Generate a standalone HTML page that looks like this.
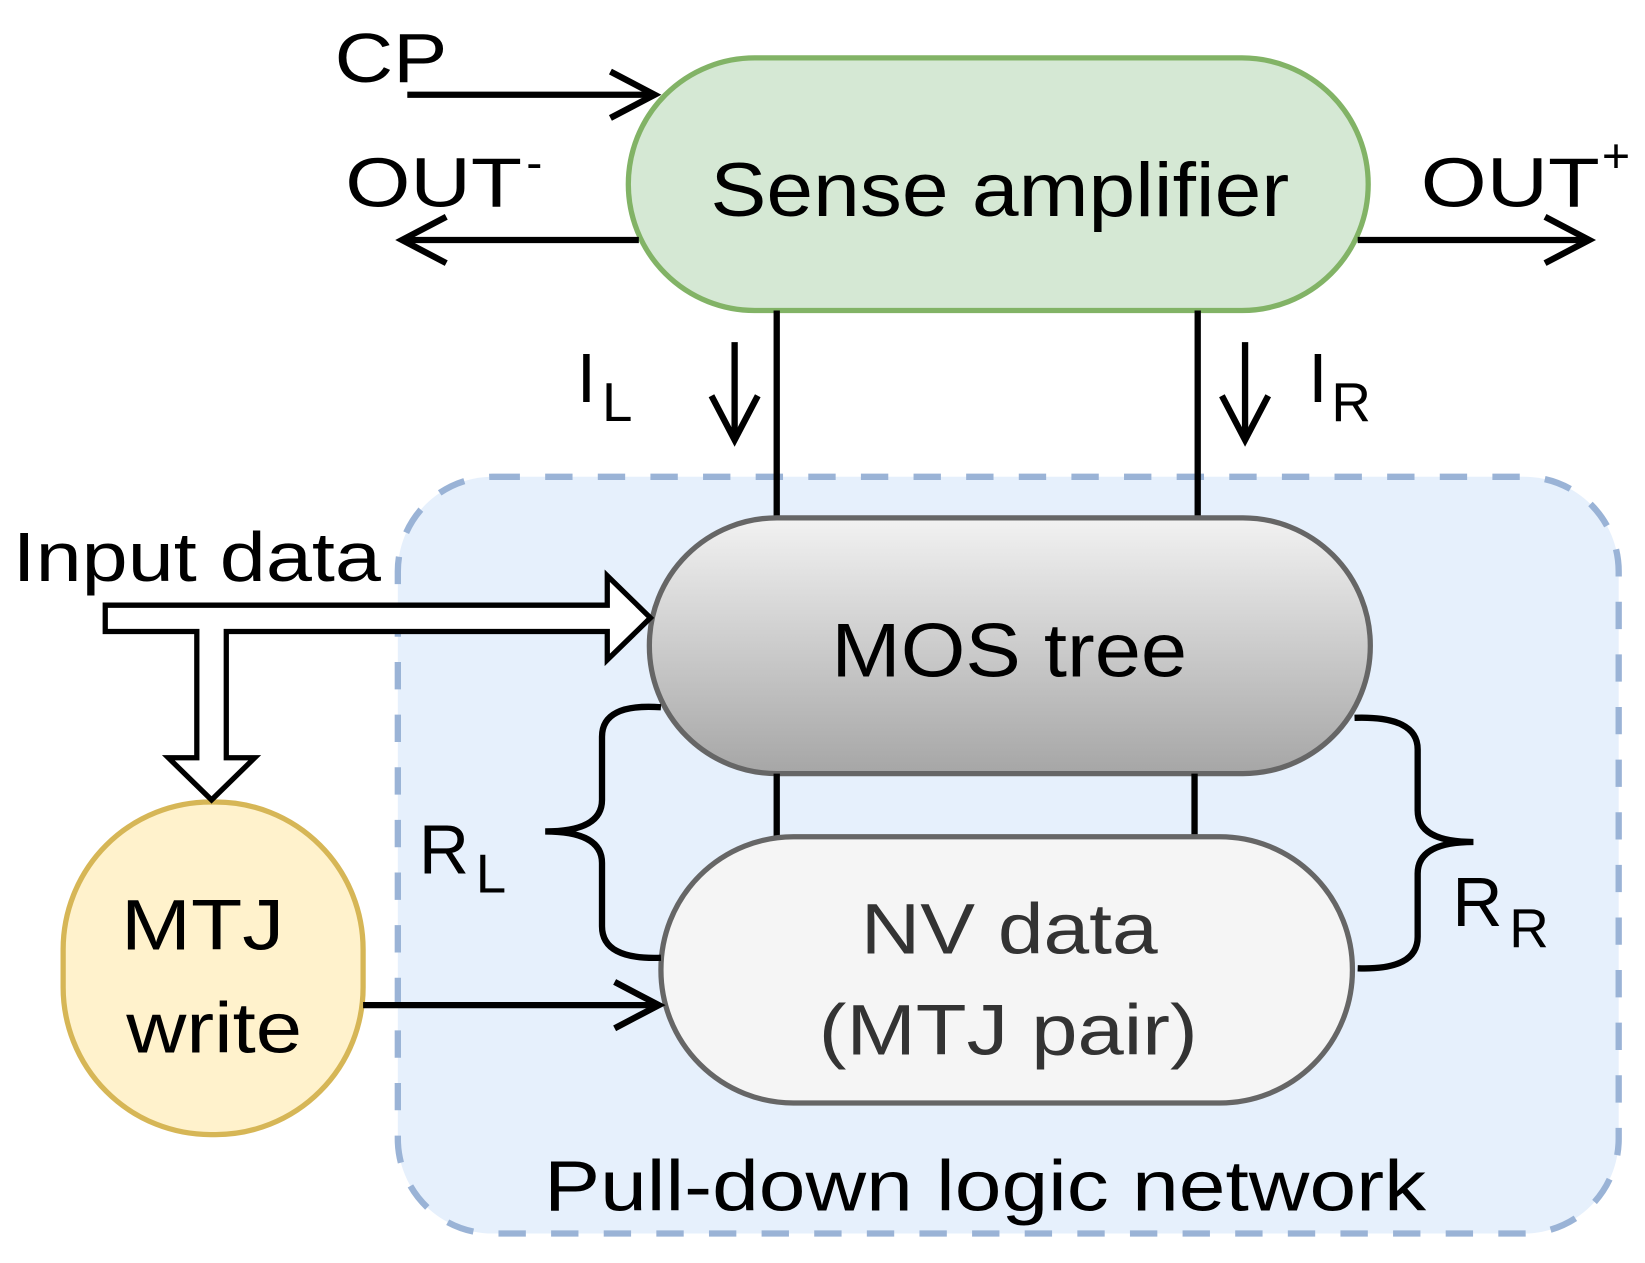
<!DOCTYPE html>
<html><head><style>html,body{margin:0;padding:0;background:#fff}svg{display:block}</style></head><body>
<svg width="1645" height="1263" viewBox="0 0 1563 1200" xmlns="http://www.w3.org/2000/svg" font-family="Liberation Sans, sans-serif">
<defs>
<linearGradient id="g" x1="0" y1="0" x2="0" y2="1"><stop offset="0" stop-color="#f2f2f2"/><stop offset="1" stop-color="#a6a6a6"/></linearGradient>
</defs>
<rect x="378" y="453" width="1160" height="719" rx="90" fill="#e6f0fc" stroke="#9ab3d6" stroke-width="6" stroke-dasharray="26,24"/>
<rect x="597" y="55" width="703" height="240" rx="120" fill="#d5e8d4" stroke="#82b366" stroke-width="5"/>
<text x="675" y="205" font-size="72" textLength="550" lengthAdjust="spacingAndGlyphs">Sense amplifier</text>
<text x="318" y="78" font-size="66" textLength="107" lengthAdjust="spacingAndGlyphs">CP</text>
<g stroke="#000" stroke-width="6" fill="none">
<line x1="387" y1="90" x2="620" y2="90"/>
<path d="M580,68 L622,90 L580,112"/>
<line x1="607" y1="228" x2="384" y2="228"/>
<path d="M424,206 L382,228 L424,250"/>
<line x1="1290" y1="228" x2="1508" y2="228"/>
<path d="M1468,206 L1510,228 L1468,250"/>
<line x1="738" y1="295" x2="738" y2="492"/>
<line x1="1138" y1="295" x2="1138" y2="492"/>
<line x1="698" y1="325" x2="698" y2="416"/>
<path d="M676,376 L698,418 L720,376"/>
<line x1="1183" y1="325" x2="1183" y2="416"/>
<path d="M1161,376 L1183,418 L1205,376"/>
</g>
<text x="328" y="196" font-size="66" textLength="168" lengthAdjust="spacingAndGlyphs">OUT</text><text x="500" y="170" font-size="46">-</text>
<text x="1350" y="196" font-size="66" textLength="170" lengthAdjust="spacingAndGlyphs">OUT</text><text x="1522" y="164" font-size="46">+</text>
<text x="548" y="382" font-size="66">I</text><text x="572" y="400" font-size="52">L</text>
<text x="1243" y="382" font-size="66">I</text><text x="1265" y="400" font-size="52">R</text>
<rect x="617" y="492" width="685" height="243" rx="121" fill="url(#g)" stroke="#666" stroke-width="5"/>
<text x="790" y="643" font-size="72" textLength="338" lengthAdjust="spacingAndGlyphs">MOS tree</text>
<line x1="738" y1="735" x2="738" y2="795" stroke="#000" stroke-width="6"/>
<line x1="1135" y1="735" x2="1135" y2="795" stroke="#000" stroke-width="6"/>
<rect x="628" y="795" width="657" height="253" rx="126" fill="#f5f5f5" stroke="#666" stroke-width="5"/>
<text x="818" y="906" font-size="68" fill="#333" textLength="282" lengthAdjust="spacingAndGlyphs">NV data</text>
<text x="778" y="1002" font-size="68" fill="#333" textLength="360" lengthAdjust="spacingAndGlyphs">(MTJ pair)</text>
<rect x="60" y="762" width="285" height="316" rx="140" fill="#fff2cc" stroke="#d6b656" stroke-width="5"/>
<text x="115" y="902" font-size="68" textLength="155" lengthAdjust="spacingAndGlyphs">MTJ</text>
<text x="120" y="1000" font-size="68" textLength="167" lengthAdjust="spacingAndGlyphs">write</text>
<line x1="345" y1="955" x2="624" y2="955" stroke="#000" stroke-width="6"/>
<path d="M584,933 L626,955 L584,977" fill="none" stroke="#000" stroke-width="6"/>
<text x="12" y="552" font-size="66" textLength="350" lengthAdjust="spacingAndGlyphs">Input data</text>
<path d="M100,575 L577,575 L577,547 L618,587 L577,627 L577,600 L215,600 L215,720 L242,720 L201,760 L160,720 L187,720 L187,600 L100,600 Z" fill="#fff" stroke="#000" stroke-width="5"/>
<path d="M628,672 Q572,668 572,700 L572,760 Q572,790 518,790 Q572,790 572,820 L572,880 Q572,912 628,910" fill="none" stroke="#000" stroke-width="6"/>
<path d="M1287,682 Q1347,680 1347,712 L1347,770 Q1347,800 1400,800 Q1347,800 1347,830 L1347,890 Q1347,922 1290,920" fill="none" stroke="#000" stroke-width="6"/>
<text x="398" y="830" font-size="66">R</text><text x="452" y="848" font-size="52">L</text>
<text x="1380" y="880" font-size="66">R</text><text x="1434" y="900" font-size="52">R</text>
<text x="517" y="1150" font-size="68" textLength="838" lengthAdjust="spacingAndGlyphs">Pull-down logic network</text>
</svg>
</body></html>
